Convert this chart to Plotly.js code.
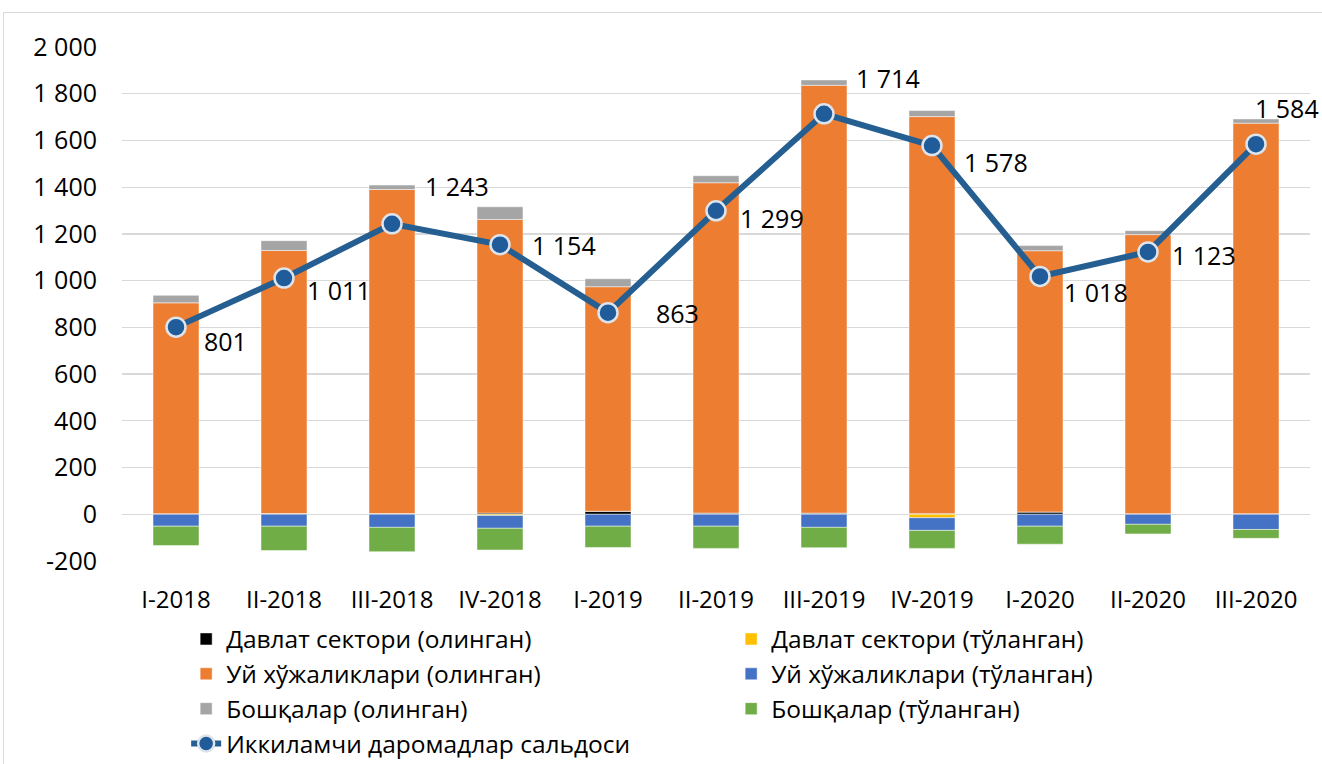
<!DOCTYPE html>
<html>
<head>
<meta charset="utf-8">
<script src="https://cdn.plot.ly/plotly-3.0.1.min.js"></script>
<style>
  html, body { margin: 0; padding: 0; background: #fff; }
  #chart { width: 1322px; height: 764px; position: absolute; left: 0; top: 0; }
  #frame { position: absolute; left: 3px; top: 12px; width: 1330px; height: 800px;
           border-left: 1px solid #d9d9d9; border-top: 1px solid #d9d9d9; pointer-events: none; }
</style>
</head>
<body>
<div id="chart"></div>
<div id="frame"></div>
<script>
// ---- data ----
const categories = ['I-2018','II-2018','III-2018','IV-2018','I-2019','II-2019','III-2019','IV-2019','I-2020','II-2020','III-2020'];
const govReceived   = [2, 3, 3, 5, 13, 5, 5, 3, 10, 2, 2];
const govPaid       = [0, 0, 0, -5, 0, 0, 0, -15, 0, 0, 0];
const hhReceived    = [903, 1126, 1387, 1257, 961, 1414, 1831, 1699, 1118, 1195, 1672];
const hhPaid        = [-51, -51, -56, -55, -51, -51, -56, -54, -51, -43, -65];
const otherReceived = [32, 42, 19, 54, 34, 30, 23, 26, 22, 17, 18];
const otherPaid     = [-83, -104, -104, -93, -91, -95, -87, -77, -77, -41, -38];
const balance       = [801, 1011, 1243, 1154, 863, 1299, 1714, 1578, 1018, 1123, 1584];
const yTicks        = [-200, 0, 200, 400, 600, 800, 1000, 1200, 1400, 1600, 1800, 2000];

const names = {
  govR: 'Давлат сектори (олинган)',
  govP: 'Давлат сектори (тўланган)',
  hhR: 'Уй хўжаликлари (олинган)',
  hhP: 'Уй хўжаликлари (тўланган)',
  othR: 'Бошқалар (олинган)',
  othP: 'Бошқалар (тўланган)',
  bal: 'Иккиламчи даромадлар сальдоси'
};

function fmt(v) { return String(v).replace(/\B(?=(\d{3})+(?!\d))/g, ' '); }

const FONT = 'Open Sans, sans-serif';
const barLine = { width: 0.8, color: 'rgba(255,255,255,0.6)' };
function bar(name, y, color) {
  return { type: 'bar', name: name, x: categories, y: y,
           marker: { color: color, line: barLine }, hoverinfo: 'skip' };
}

// label offsets (pixels) relative to each point: style only
const labelDx = [26, 21, 31, 30, 46, 22, 30, 30, 22, 22, -3];
const labelDy = [14, 12, -38, 0, 0, 7, -36, 16, 16, 3, -36];

const traces = [
  bar(names.govR, govReceived, '#000000'),
  bar(names.govP, govPaid, '#ffc000'),
  bar(names.hhR, hhReceived, '#ed7d31'),
  bar(names.hhP, hhPaid, '#4472c4'),
  bar(names.othR, otherReceived, '#a5a5a5'),
  bar(names.othP, otherPaid, '#70ad47'),
  { type: 'scatter', mode: 'lines+markers', name: names.bal, x: categories, y: balance,
    line: { color: '#255e91', width: 6 },
    marker: { size: 19, color: '#1f5c99', line: { color: '#dde4ec', width: 2.5 } },
    hoverinfo: 'skip', cliponaxis: false }
];

const annotations = balance.map((v, i) => ({
  x: categories[i], y: v, xref: 'x', yref: 'y', text: fmt(v), showarrow: false,
  xanchor: 'left', yanchor: 'middle', xshift: labelDx[i], yshift: -labelDy[i],
  font: { family: FONT, size: 25, color: '#000' }
}));

const layout = {
  width: 1322, height: 764,
  margin: { l: 122, r: 12, t: 47, b: 203, autoexpand: false },
  paper_bgcolor: '#ffffff', plot_bgcolor: '#ffffff',
  barmode: 'relative', bargap: 0.574,
  font: { family: FONT, size: 24, color: '#000' },
  showlegend: true,
  annotations: annotations,
  xaxis: { type: 'category', range: [-0.5, categories.length - 0.5], showgrid: false, zeroline: false, showline: false,
           ticks: '', ticklabelstandoff: 22, tickfont: { family: FONT, size: 24, color: '#000' } },
  yaxis: { range: [-200, 2000], tickvals: yTicks, ticktext: yTicks.map(fmt),
           showgrid: true, gridcolor: '#d9d9d9', gridwidth: 1.3,
           zeroline: true, zerolinecolor: '#d9d9d9', zerolinewidth: 1.3,
           showline: false, ticks: '', ticklabelstandoff: 24,
           tickfont: { family: FONT, size: 25, color: '#000' } },
  legend: { orientation: 'h', x: 0.054, xanchor: 'left', y: -0.108, yanchor: 'top',
            entrywidth: 500, entrywidthmode: 'pixels', traceorder: 'normal',
            font: { family: FONT, size: 24.5, color: '#000' }, bgcolor: 'rgba(0,0,0,0)' }
};

Plotly.newPlot('chart', traces, layout, { displayModeBar: false, staticPlot: true });
</script>
</body>
</html>
